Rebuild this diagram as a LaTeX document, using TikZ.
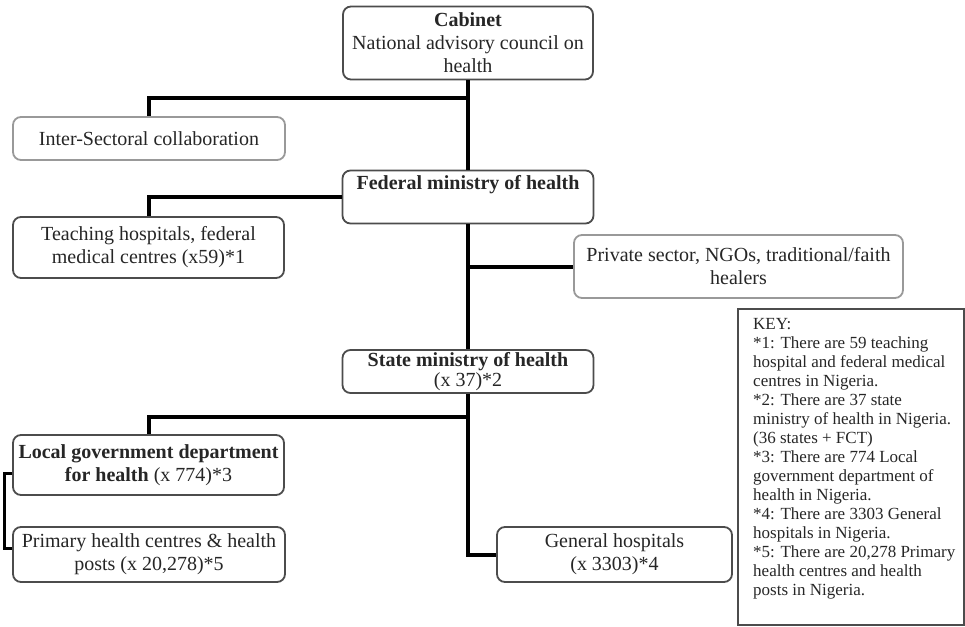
\documentclass[tikz,border=0pt]{standalone}
\usepackage{fontspec}
\setmainfont{Liberation Serif}

\begin{document}
\begin{tikzpicture}[
    x=1pt, y=-1pt,
    box/.style={draw=black!70, line width=1.8pt, rounded corners=8pt, fill=white,
                inner sep=0pt, align=center, text=black!85,
                font=\fontsize{20}{23}\selectfont},
    softbox/.style={box, draw=black!40},
    link/.style={line width=4pt},
    thinlink/.style={line width=3pt},
    keybox/.style={draw=black!70, line width=1.6pt, inner sep=0pt},
    keytext/.style={anchor=north west, align=left, inner sep=0pt, text=black!85,
                    font=\fontsize{17}{19}\selectfont}
]
\useasboundingbox (0,0) rectangle (965,626);

\node[box, minimum width=250, minimum height=73] (cab) at (468,43)
    {\textbf{Cabinet}\\National advisory council on\\health};
\node[softbox, minimum width=272, minimum height=43] (inter) at (149,138.5)
    {Inter-Sectoral collaboration};
\node[box, minimum width=251, minimum height=53] (fed) at (468,197)
    {\textbf{Federal ministry of health}\\\strut};
\node[box, minimum width=271, minimum height=61] (teach) at (148.5,247.5)
    {Teaching hospitals, federal\\medical centres (x59)*1};
\node[softbox, minimum width=329, minimum height=63] (priv) at (738.5,266.5)
    {Private sector, NGOs, traditional/faith\\healers};
\node[box, minimum width=251, minimum height=43] (state) at (468,371.5)
    {\textbf{State ministry of health}\\[-3pt](x 37)*2};
\node[box, minimum width=271, minimum height=60] (local) at (148.5,465)
    {\textbf{Local government department}\\\textbf{for health} (x 774)*3};
\node[box, minimum width=272, minimum height=55] (prim) at (149,554.5)
    {Primary health centres \& health\\posts (x 20,278)*5};
\node[box, minimum width=235, minimum height=55] (gen) at (614.5,554.5)
    {General hospitals\\(x 3303)*4};

\coordinate (j1) at (468,98);
\coordinate (j2) at (468,417);

\draw[link] (cab.south) -- (fed.north);
\draw[link] (j1) -| (inter.north);
\draw[link] (fed.west) -| (teach.north);
\draw[link] (fed.south) -- (state.north);
\draw[link] (fed.south |- priv.west) -- (priv.west);
\draw[link] (j2) -| (local.north);
\draw[link] (state.south) |- (gen.west);
\draw[thinlink] ([yshift=-8pt]local.west) -- ++(-8,0) |- ([yshift=6pt]prim.west);

\node[keybox, minimum width=226, minimum height=316, anchor=north west] (key) at (737,308) {};
\node[keytext] (keytxt) at (753,318)
    {KEY:\\
     *1: There are 59 teaching\\
     hospital and federal medical\\
     centres in Nigeria.\\
     *2: There are 37 state\\
     ministry of health in Nigeria.\\
     (36 states + FCT)\\
     *3: There are 774 Local\\
     government department of\\
     health in Nigeria.\\
     *4: There are 3303 General\\
     hospitals in Nigeria.\\
     *5: There are 20,278 Primary\\
     health centres and health\\
     posts in Nigeria.};
\end{tikzpicture}
\end{document}
